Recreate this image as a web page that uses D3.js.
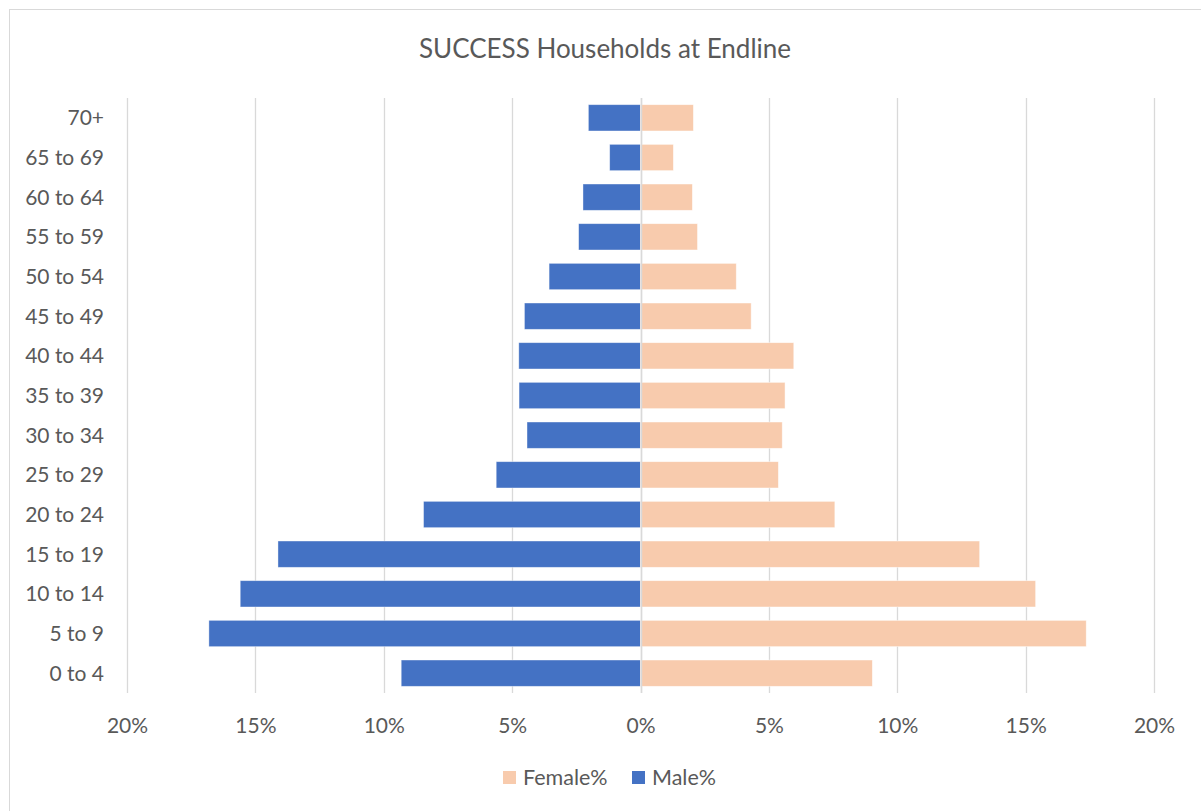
<!DOCTYPE html>
<html>
<head>
<meta charset="utf-8">
<script src="https://cdn.jsdelivr.net/npm/d3@7"></script>
<style>
  html, body { margin: 0; padding: 0; background: #fff; }
  svg { display: block; font-family: Lato, "Open Sans", sans-serif; }
</style>
</head>
<body>
<svg id="chart" width="1201" height="811"></svg>
<script>
// Age groups, youngest first
const ageGroups = ["0 to 4", "5 to 9", "10 to 14", "15 to 19", "20 to 24", "25 to 29",
  "30 to 34", "35 to 39", "40 to 44", "45 to 49", "50 to 54", "55 to 59",
  "60 to 64", "65 to 69", "70+"];

// Share of household members in each age group (%)
const malePct = [9.32, 16.81, 15.59, 14.12, 8.45, 5.62, 4.42, 4.73, 4.74, 4.52, 3.56, 2.41, 2.24, 1.20, 2.03];
const femalePct = [9.03, 17.36, 15.39, 13.21, 7.57, 5.37, 5.52, 5.63, 5.97, 4.31, 3.73, 2.22, 2.02, 1.28, 2.06];

const xTicks = [-20, -15, -10, -5, 0, 5, 10, 15, 20];
const chartTitle = "SUCCESS Households at Endline";
const seriesNames = ["Female%", "Male%"];

const colors = { male: "#4472C4", female: "#F8CBAD", grid: "#D9D9D9", text: "#595959" };

const svg = d3.select("#chart");
const plot = { left: 127, right: 1154, top: 98, bottom: 693 };

// Outer chart frame
svg.append("rect")
  .attr("x", 9.5).attr("y", 9.5)
  .attr("width", 1220).attr("height", 830)
  .attr("fill", "#fff").attr("stroke", colors.grid).attr("stroke-width", 1);

const x = d3.scaleLinear().domain([-20, 20]).range([plot.left, plot.right]);
const y = d3.scaleBand()
  .domain(ageGroups.slice().reverse())
  .range([plot.top, plot.bottom])
  .paddingInner(0.337)
  .paddingOuter(0.1685);

// Vertical gridlines
svg.append("g").selectAll("line").data(xTicks).join("line")
  .attr("x1", d => Math.round(x(d)) + 0.5).attr("x2", d => Math.round(x(d)) + 0.5)
  .attr("y1", plot.top).attr("y2", plot.bottom)
  .attr("stroke", colors.grid).attr("stroke-width", 1.3);

const rows = ageGroups.map((g, i) => ({ group: g, male: malePct[i], female: femalePct[i] }));

// Male bars extend left of zero
svg.append("g").selectAll("rect").data(rows).join("rect")
  .attr("x", d => x(-d.male))
  .attr("y", d => y(d.group))
  .attr("width", d => x(0) - x(-d.male))
  .attr("height", y.bandwidth())
  .attr("fill", colors.male)
  .attr("stroke", "#fff").attr("stroke-opacity", 0.5).attr("stroke-width", 0.75);

// Female bars extend right of zero
svg.append("g").selectAll("rect").data(rows).join("rect")
  .attr("x", x(0))
  .attr("y", d => y(d.group))
  .attr("width", d => x(d.female) - x(0))
  .attr("height", y.bandwidth())
  .attr("fill", colors.female)
  .attr("stroke", "#fff").attr("stroke-opacity", 0.6).attr("stroke-width", 0.75);

// Zero line on top of the bars
svg.append("line")
  .attr("x1", Math.round(x(0)) + 0.5).attr("x2", Math.round(x(0)) + 0.5)
  .attr("y1", plot.top).attr("y2", plot.bottom)
  .attr("stroke", colors.grid).attr("stroke-width", 1.5);

// Category axis labels
const yAxis = d3.axisLeft(y).tickSize(0).tickPadding(0);
const yg = svg.append("g").attr("transform", `translate(${plot.left - 23},0)`).call(yAxis);
yg.select(".domain").remove();
yg.selectAll("text")
  .attr("fill", colors.text)
  .style("font-size", "21px")
  .style("font-family", "Lato, sans-serif")
  .attr("dy", "0.36em");

// Percentage axis labels (absolute values both sides)
const xAxis = d3.axisBottom(x).tickValues(xTicks).tickSize(0).tickPadding(0)
  .tickFormat(d => Math.abs(d) + "%");
const xg = svg.append("g").attr("transform", `translate(0,${plot.bottom + 25})`).call(xAxis);
xg.select(".domain").remove();
xg.selectAll("text")
  .attr("fill", colors.text)
  .style("font-size", "21px")
  .style("font-family", "Lato, sans-serif")
  .attr("dy", "0.71em");

// Title
svg.append("text")
  .attr("x", 605).attr("y", 58)
  .attr("text-anchor", "middle")
  .attr("fill", colors.text)
  .style("font-size", "26px")
  .text(chartTitle);

// Legend
const legend = svg.append("g").attr("transform", "translate(503,771)");
const legendItems = [
  { name: seriesNames[0], color: colors.female, dx: 0 },
  { name: seriesNames[1], color: colors.male, dx: 129 }
];
const li = legend.selectAll("g").data(legendItems).join("g")
  .attr("transform", d => `translate(${d.dx},0)`);
li.append("rect").attr("width", 13).attr("height", 13).attr("fill", d => d.color);
li.append("text")
  .attr("x", 20).attr("y", 6.5).attr("dy", "0.36em")
  .attr("fill", colors.text)
  .style("font-size", "21.5px")
  .text(d => d.name);
</script>
</body>
</html>
